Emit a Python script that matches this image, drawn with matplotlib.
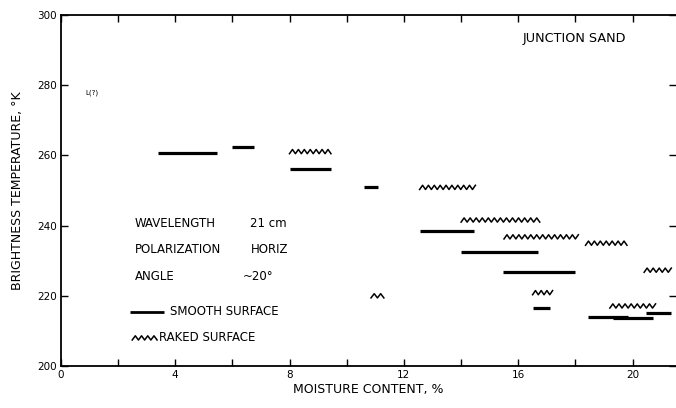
import numpy as np
import matplotlib.pyplot as plt

plt.rcParams['font.family'] = ['Liberation Sans Narrow', 'DejaVu Sans']

# smooth surface segments: moisture range (%) and brightness temperature (K)
smooth_x0 = [3.4, 6.0, 8.0, 10.6, 12.55, 14.0, 15.45, 16.5, 18.45, 19.3, 20.45]
smooth_x1 = [5.45, 6.75, 9.45, 11.1, 14.45, 16.7, 18.0, 17.1, 19.85, 20.7, 21.35]
smooth_t = [260.7, 262.5, 256.1, 250.9, 238.5, 232.6, 226.8, 216.4, 214.1, 213.7, 215.0]

# raked surface segments
raked_x0 = [8.0, 10.85, 12.55, 14.0, 15.5, 16.5, 18.35, 19.2, 20.4]
raked_x1 = [9.45, 11.3, 14.5, 16.75, 18.1, 17.2, 19.8, 20.8, 21.35]
raked_t = [261.1, 220.0, 250.9, 241.6, 236.8, 220.9, 235.0, 217.1, 227.3]

x_ticks = np.arange(0, 21, 2)
x_labels = ['0', '', '4', '', '8', '', '12', '', '16', '', '20']
y_ticks = [200, 220, 240, 260, 280, 300]


def zigzag(ax, x0, x1, y, period=0.21, amp=0.6, **kw):
    ## wavy line between x0 and x1 at height y
    n = max(int(round((x1 - x0) / period * 2)), 2)
    xs = np.linspace(x0, x1, n + 1)
    ys = y + amp * np.where(np.arange(n + 1) % 2 == 0, -1, 1)
    ax.plot(xs, ys, **kw)


fig = plt.figure(figsize=(6.76, 4.08), dpi=100)
ax = fig.add_axes([0.0898, 0.103, 0.9096, 0.860])

ax.hlines(smooth_t, smooth_x0, smooth_x1, colors='black', linewidth=2.3)
for a, b, t in zip(raked_x0, raked_x1, raked_t):
    zigzag(ax, a, b, t, color='black', linewidth=1.1)

ax.set_xlim(0, 21.5)
ax.set_ylim(200, 300)
ax.set_xticks(x_ticks)
ax.set_xticklabels(x_labels)
ax.set_yticks(y_ticks)
ax.tick_params(direction='in', length=5, width=1, labelsize=7.5, top=True, right=True, pad=3)
for s in ['left', 'bottom', 'top']:
    ax.spines[s].set_linewidth(1.3)
ax.spines['right'].set_visible(False)

ax.set_xlabel('MOISTURE CONTENT, %', fontsize=9, labelpad=2)
ax.set_ylabel('BRIGHTNESS TEMPERATURE, °K', fontsize=9, labelpad=9)

fs = 8.5
ax.text(16.16, 293.4, 'JUNCTION SAND', fontsize=9.2, va='center')
ax.text(0.85, 278, 'L(?)', fontsize=5, va='center')
ax.text(2.6, 240.5, 'WAVELENGTH', fontsize=fs, va='center')
ax.text(6.62, 240.5, '21 cm', fontsize=fs, va='center')
ax.text(2.6, 233.3, 'POLARIZATION', fontsize=fs, va='center')
ax.text(6.65, 233.3, 'HORIZ', fontsize=fs, va='center')
ax.text(2.6, 225.6, 'ANGLE', fontsize=fs, va='center')
ax.text(6.37, 225.6, '~20°', fontsize=fs, va='center')

ax.hlines(215.4, 2.42, 3.6, colors='black', linewidth=2.0)
ax.text(3.82, 215.4, 'SMOOTH SURFACE', fontsize=fs, va='center')
zigzag(ax, 2.5, 3.37, 208.0, color='black', linewidth=1.1)
ax.text(3.44, 208.0, 'RAKED SURFACE', fontsize=fs, va='center')

plt.savefig('out.png', dpi=100)
